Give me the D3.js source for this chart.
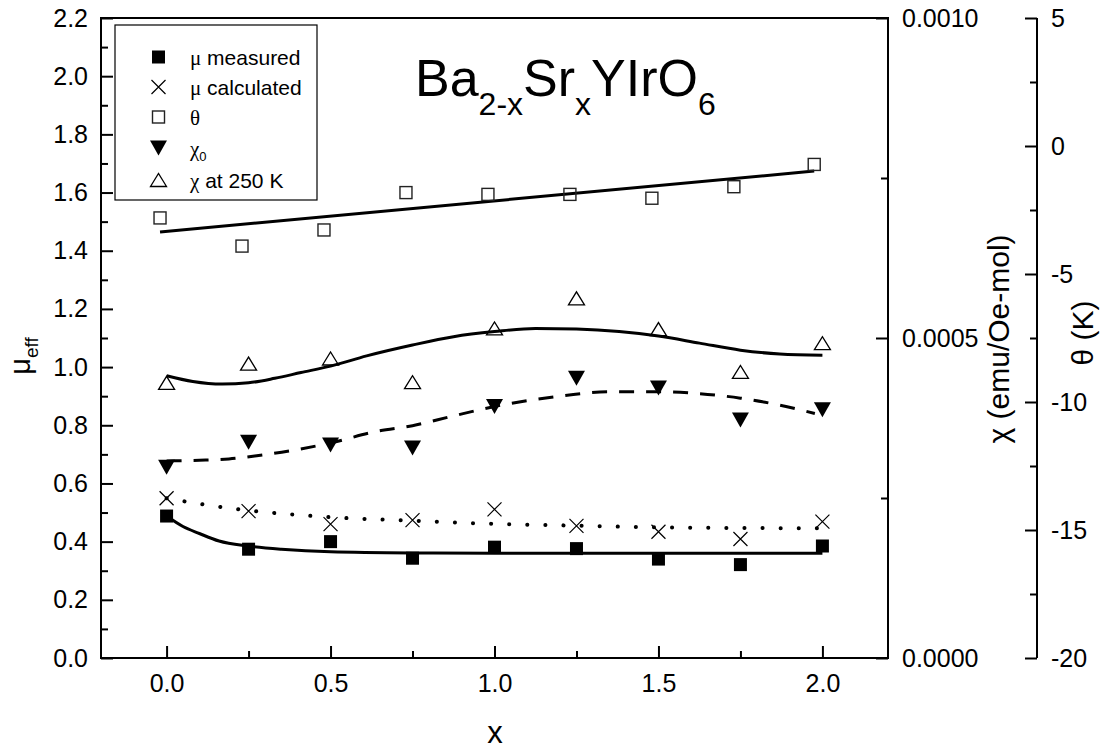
<!DOCTYPE html>
<html>
<head>
<meta charset="utf-8">
<script src="https://cdn.jsdelivr.net/npm/d3@7"></script>
<style>
  body { margin: 0; background: #fff; }
  svg { display: block; }
  text { font-family: Arial, "Liberation Sans", sans-serif; fill: #000; }
</style>
</head>
<body>
<svg id="chart" width="1105" height="751"></svg>
<script>
// ---------- data ----------
const xValues      = [0, 0.25, 0.5, 0.75, 1.0, 1.25, 1.5, 1.75, 2.0];
const muMeasured   = [0.488, 0.374, 0.400, 0.343, 0.381, 0.376, 0.340, 0.321, 0.385];
const muCalculated = [0.549, 0.505, 0.460, 0.474, 0.511, 0.454, 0.434, 0.409, 0.469];
const thetaX       = [-0.02, 0.23, 0.48, 0.73, 0.98, 1.23, 1.48, 1.73, 1.975];
const thetaValues  = [-2.81, -3.91, -3.28, -1.82, -1.89, -1.89, -2.04, -1.59, -0.72];
const chi0Values   = [0.000298, 0.000337, 0.000333, 0.000328, 0.000393, 0.000437, 0.000422, 0.000372, 0.000388];
const chi250Values = [0.000430, 0.000460, 0.000468, 0.000431, 0.000515, 0.000562, 0.000514, 0.000447, 0.000492];

// fitted curves
const muMeasFitX = [0.0, 0.05, 0.1, 0.16, 0.25, 0.35, 0.5, 0.75, 1.0, 1.5, 2.0];
const muMeasFitY = [0.488, 0.452, 0.428, 0.402, 0.385, 0.374, 0.365, 0.361, 0.360, 0.360, 0.360];
const muCalcFitX = [0, 0.1, 0.25, 0.4, 0.5, 0.75, 1.0, 1.25, 1.5, 1.75, 2.0];
const muCalcFitY = [0.549, 0.530, 0.507, 0.492, 0.484, 0.472, 0.461, 0.455, 0.449, 0.447, 0.446];
const thetaFitX  = [-0.02, 1.975];
const thetaFitY  = [-3.36, -0.98];
const chi250FitX = [0, 0.08, 0.17, 0.25, 0.33, 0.41, 0.5, 0.61, 0.75, 0.875, 1.0, 1.125, 1.25, 1.38, 1.5, 1.625, 1.75, 1.87, 2.0];
const chi250FitY = [0.000441, 0.000432, 0.000428, 0.000430, 0.000437, 0.000446, 0.000456, 0.000472, 0.000489, 0.000502, 0.000510, 0.000515, 0.000514, 0.000510, 0.000503, 0.000492, 0.000481, 0.000475, 0.000473];
const chi0FitX   = [0, 0.1, 0.19, 0.275, 0.38, 0.5, 0.64, 0.75, 0.865, 1.0, 1.18, 1.36, 1.5, 1.625, 1.75, 1.87, 1.977];
const chi0FitY   = [0.000308, 0.000309, 0.000311, 0.000316, 0.000324, 0.000336, 0.000354, 0.000363, 0.000377, 0.000393, 0.000408, 0.000416, 0.000416, 0.000413, 0.000406, 0.000395, 0.000382];

const xTicks     = [0, 0.5, 1.0, 1.5, 2.0];
const xMinor     = [-0.25, 0.25, 0.75, 1.25, 1.75, 2.25];
const muTicks    = [0, 0.2, 0.4, 0.6, 0.8, 1.0, 1.2, 1.4, 1.6, 1.8, 2.0, 2.2];
const muMinor    = [0.1, 0.3, 0.5, 0.7, 0.9, 1.1, 1.3, 1.5, 1.7, 1.9, 2.1];
const chiTicks   = [0, 0.0005, 0.0010];
const chiMinor   = [0.00025, 0.00075];
const thetaTicks = [-20, -15, -10, -5, 0, 5];
const thetaMinor = [-17.5, -12.5, -7.5, -2.5, 2.5];
const legendLabels = ["μ measured", "μ calculated", "θ", "χ0", "χ at 250 K"];

// ---------- scales ----------
const svg = d3.select("#chart");
const L = 101, R = 888, T = 18, B = 658, TH = 1037;
const x = d3.scaleLinear().domain([-0.2, 2.2]).range([L, R]);
const yMu = d3.scaleLinear().domain([0, 2.2]).range([B, T]);
const yChi = d3.scaleLinear().domain([0, 0.0010]).range([B, T]);
const yTh = d3.scaleLinear().domain([-20, 5]).range([B, T]);

function styleAxis(g) {
  g.select(".domain").remove();
  g.selectAll(".tick line").attr("stroke", "#000").attr("stroke-width", 2);
  g.selectAll(".tick text").attr("font-size", 25).attr("font-family", "Arial, 'Liberation Sans', sans-serif").attr("fill", "#000");
}

// left axis
svg.append("g").attr("transform", `translate(${L},0)`)
  .call(d3.axisLeft(yMu).tickValues(muTicks).tickSize(-12).tickPadding(13).tickFormat(d3.format(".1f")))
  .call(styleAxis);
svg.append("g").attr("transform", `translate(${L},0)`)
  .call(d3.axisLeft(yMu).tickValues(muMinor).tickSize(-7).tickFormat(""))
  .call(styleAxis);
// bottom axis
svg.append("g").attr("transform", `translate(0,${B})`)
  .call(d3.axisBottom(x).tickValues(xTicks).tickSize(-12).tickPadding(16).tickFormat(d3.format(".1f")))
  .call(styleAxis);
svg.append("g").attr("transform", `translate(0,${B})`)
  .call(d3.axisBottom(x).tickValues(xMinor.filter(v => v > -0.2 && v < 2.2)).tickSize(-7).tickFormat(""))
  .call(styleAxis);
// chi axis
svg.append("g").attr("transform", `translate(${R},0)`)
  .call(d3.axisRight(yChi).tickValues(chiTicks).tickSize(-12).tickPadding(14).tickFormat(d3.format(".4f")))
  .call(styleAxis);
svg.append("g").attr("transform", `translate(${R},0)`)
  .call(d3.axisRight(yChi).tickValues(chiMinor).tickSize(-7).tickFormat(""))
  .call(styleAxis);
// theta axis
svg.append("g").attr("transform", `translate(${TH},0)`)
  .call(d3.axisRight(yTh).tickValues(thetaTicks).tickSize(-12).tickPadding(14).tickFormat(d => String(d)))
  .call(styleAxis);
svg.append("g").attr("transform", `translate(${TH},0)`)
  .call(d3.axisRight(yTh).tickValues(thetaMinor).tickSize(-7).tickFormat(""))
  .call(styleAxis);

// frame
svg.append("rect").attr("x", L).attr("y", T).attr("width", R - L).attr("height", B - T)
  .attr("fill", "none").attr("stroke", "#000").attr("stroke-width", 2);
svg.append("line").attr("x1", TH).attr("x2", TH).attr("y1", T).attr("y2", B)
  .attr("stroke", "#000").attr("stroke-width", 2);

// ---------- curves ----------
function curve(xs, ys, yScale, dash, width) {
  const pts = xs.map((v, i) => [x(v), yScale(ys[i])]);
  const p = svg.append("path")
    .attr("d", d3.line().curve(d3.curveMonotoneX)(pts))
    .attr("fill", "none").attr("stroke", "#000").attr("stroke-width", width);
  if (dash) p.attr("stroke-dasharray", dash);
  return p;
}
curve(muMeasFitX, muMeasFitY, yMu, null, 3);
curve(muCalcFitX, muCalcFitY, yMu, "0.1 18", 4).attr("stroke-linecap", "round");
curve(thetaFitX, thetaFitY, yTh, null, 3);
curve(chi250FitX, chi250FitY, yChi, null, 3);
curve(chi0FitX, chi0FitY, yChi, "15 12", 3);

// ---------- markers ----------
function drawMarker(g, type, cx, cy) {
  if (type === "fsq") {
    g.append("rect").attr("x", cx - 6.5).attr("y", cy - 6.5).attr("width", 13).attr("height", 13).attr("fill", "#000");
  } else if (type === "cross") {
    g.append("path").attr("d", `M${cx-7},${cy-7}L${cx+7},${cy+7}M${cx-7},${cy+7}L${cx+7},${cy-7}`)
      .attr("stroke", "#000").attr("stroke-width", 1.2).attr("fill", "none");
  } else if (type === "osq") {
    g.append("rect").attr("x", cx - 6).attr("y", cy - 6).attr("width", 12).attr("height", 12)
      .attr("fill", "none").attr("stroke", "#222").attr("stroke-width", 1.4);
  } else if (type === "dtri") {
    g.append("path").attr("d", `M${cx-8.5},${cy-7.5}L${cx+8.5},${cy-7.5}L${cx},${cy+7.5}Z`).attr("fill", "#000");
  } else if (type === "otri") {
    g.append("path").attr("d", `M${cx-8},${cy+6.5}L${cx+8},${cy+6.5}L${cx},${cy-6.5}Z`)
      .attr("fill", "none").attr("stroke", "#000").attr("stroke-width", 1.3);
  }
}
const mg = svg.append("g");
xValues.forEach((v, i) => drawMarker(mg, "fsq", x(v), yMu(muMeasured[i])));
xValues.forEach((v, i) => drawMarker(mg, "cross", x(v), yMu(muCalculated[i])));
thetaX.forEach((v, i) => drawMarker(mg, "osq", x(v), yTh(thetaValues[i])));
xValues.forEach((v, i) => drawMarker(mg, "dtri", x(v), yChi(chi0Values[i])));
xValues.forEach((v, i) => drawMarker(mg, "otri", x(v), yChi(chi250Values[i])));

// ---------- legend ----------
svg.append("rect").attr("x", 115).attr("y", 25).attr("width", 202).attr("height", 175)
  .attr("fill", "#fff").attr("stroke", "#000").attr("stroke-width", 1.2);
const legendTypes = ["fsq", "cross", "osq", "dtri", "otri"];
const legendY = [57, 87, 117, 148, 180];
const lg = svg.append("g");
legendLabels.forEach((lab, i) => {
  drawMarker(lg, legendTypes[i], 158.5, legendY[i]);
  const t = lg.append("text").attr("x", 190).attr("y", legendY[i] + 7.5).attr("font-size", 21);
  const greek = lab[0];
  const rest = lab.slice(1);
  t.append("tspan").attr("font-family", "'Liberation Serif', 'Times New Roman', serif").text(greek);
  if (lab === "χ0") {
    t.append("tspan").attr("font-size", 13).attr("dy", 5).text("0");
  } else {
    t.append("tspan").text(rest);
  }
});

// ---------- titles ----------
const title = svg.append("text").attr("x", 415).attr("y", 96).attr("font-size", 52);
title.append("tspan").text("Ba");
title.append("tspan").attr("font-size", 32).attr("dy", 19).text("2-x");
title.append("tspan").attr("dy", -19).text("Sr");
title.append("tspan").attr("font-size", 32).attr("dy", 19).text("x");
title.append("tspan").attr("dy", -19).text("YIrO");
title.append("tspan").attr("font-size", 32).attr("dy", 19).text("6");

// x axis title
svg.append("text").attr("x", 495).attr("y", 743).attr("text-anchor", "middle").attr("font-size", 31).text("x");

// left axis title
const muT = svg.append("text").attr("transform", "translate(30,356) rotate(-90)")
  .attr("text-anchor", "middle").attr("font-size", 29);
muT.append("tspan").text("μ");
muT.append("tspan").attr("font-size", 19).attr("dy", 8).text("eff");

// chi title
svg.append("text").attr("transform", "translate(1009,339) rotate(-90)")
  .attr("text-anchor", "middle").attr("font-size", 30).text("χ (emu/Oe-mol)");

// theta title
svg.append("text").attr("transform", "translate(1093,333) rotate(-90)")
  .attr("text-anchor", "middle").attr("font-size", 30).text("θ (K)");
</script>
</body>
</html>
